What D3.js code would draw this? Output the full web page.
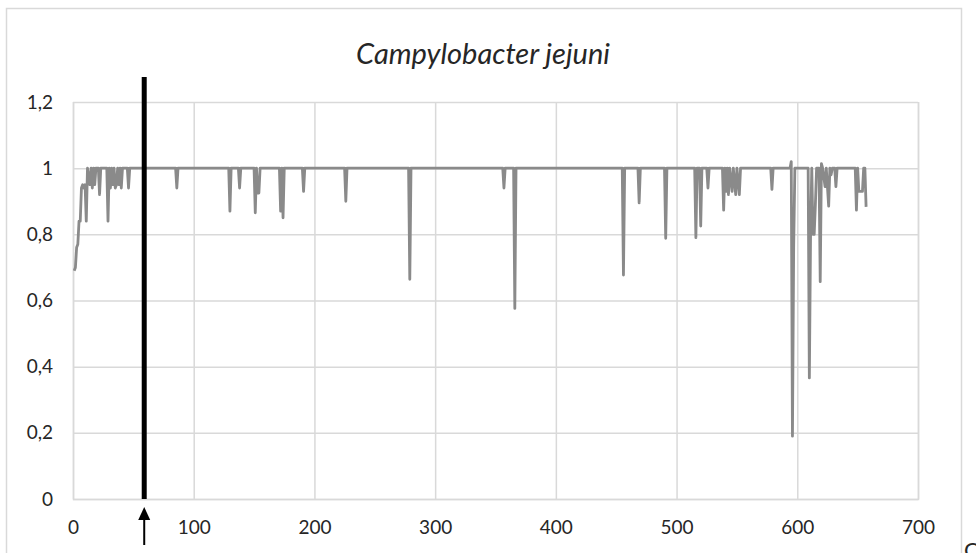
<!DOCTYPE html>
<html>
<head>
<meta charset="utf-8">
<script src="https://cdn.jsdelivr.net/npm/d3@7"></script>
<style>
  body { margin: 0; background: #fff; }
  text { font-family: Lato, "Open Sans", sans-serif; fill: #262626; }
</style>
</head>
<body>
<div id="chart"></div>
<script>
// sequence positions and their values (1 = conserved, dips below)
const positions = [1, 2, 3, 4, 5, 6, 7, 8, 9, 10, 11, 12,
  14, 15, 16, 17, 18, 19, 21, 22, 23, 28, 29, 30,
  31, 32, 33, 34, 35, 36, 37, 38, 39, 40, 41, 45, 46, 47,
  85, 86, 87, 129, 130, 131, 137, 138, 139,
  150, 151, 152, 153, 154, 155, 171, 172, 173, 174, 175,
  190, 191, 192, 225, 226, 227, 278, 279, 280,
  356, 357, 358, 365, 366, 367, 455, 456, 457, 468, 469, 470, 490, 491, 492,
  515, 516, 517, 519, 520, 521, 525, 526, 527, 538, 539, 540,
  541, 542, 543, 544, 546, 547, 549, 550, 552, 553, 578, 579, 580,
  594, 595, 596, 597, 598, 599, 609, 610, 611, 612, 613, 614, 615, 616, 617,
  618, 619, 620, 621, 623, 624, 626, 627, 628, 629, 631, 632, 633,
  648, 649, 650, 651, 652, 653, 654, 655, 656, 657];
const values = [0.69, 0.70, 0.76, 0.77, 0.84, 0.84, 0.94, 0.95, 0.94, 0.95, 0.84, 1,
  0.95, 1, 0.94, 1, 0.95, 1, 1, 0.92, 1, 1, 0.84, 1,
  0.94, 1, 0.95, 1, 0.94, 0.95, 1, 0.95, 1, 0.94, 1, 1, 0.94, 1,
  1, 0.94, 1, 1, 0.87, 1, 1, 0.94, 1,
  1, 0.865, 1, 0.925, 0.925, 1, 1, 0.87, 1, 0.85, 1,
  1, 0.93, 1, 1, 0.90, 1, 1, 0.664, 1,
  1, 0.94, 1, 1, 0.576, 1, 1, 0.677, 1, 1, 0.895, 1, 1, 0.788, 1,
  1, 0.79, 1, 1, 0.825, 1, 1, 0.94, 1, 1, 0.873, 1,
  0.93, 1, 0.92, 1, 0.93, 1, 0.92, 1, 0.92, 1, 1, 0.936, 1,
  1, 1.02, 0.19, 0.76, 1, 1, 1, 0.366, 0.80, 1, 0.80, 0.80, 0.89, 1, 1,
  1, 0.657, 1.014, 1, 0.944, 1, 0.885, 1, 0.98, 1, 1, 0.944, 1,
  1, 0.873, 1, 0.93, 0.93, 0.93, 0.93, 1, 1, 0.883];

const xTicks = [0, 100, 200, 300, 400, 500, 600, 700];
const yTicks = [0, 0.2, 0.4, 0.6, 0.8, 1, 1.2];
const yTickLabels = ["0", "0,2", "0,4", "0,6", "0,8", "1", "1,2"];
const markerPos = 59;
const title = "Campylobacter jejuni";

const W = 976, H = 553;
const plotL = 73, plotR = 918, plotT = 102, plotB = 499;

const svg = d3.select("#chart").append("svg")
  .attr("width", W)
  .attr("height", H);

// outer chart frame
svg.append("rect")
  .attr("x", 6.5).attr("y", 8.5)
  .attr("width", 955).attr("height", 570)
  .attr("fill", "#fff")
  .attr("stroke", "#d9d9d9")
  .attr("stroke-width", 1.5);

const x = d3.scaleLinear().domain([0, 700]).range([plotL, plotR]);
const y = d3.scaleLinear().domain([0, 1.2]).range([plotB, plotT]);

// x axis + vertical gridlines
const gx = svg.append("g")
  .attr("transform", "translate(0," + plotB + ")")
  .call(d3.axisBottom(x).tickValues(xTicks).tickFormat(d3.format("d"))
    .tickSize(-(plotB - plotT)).tickPadding(22));
gx.select(".domain").attr("stroke", "#d9d9d9").attr("stroke-width", 1.5);
gx.selectAll("line").attr("stroke", "#d9d9d9").attr("stroke-width", 1.5);
gx.selectAll("text").style("font-size", "19px").attr("fill", "#262626");

// y axis + horizontal gridlines
const gy = svg.append("g")
  .attr("transform", "translate(" + plotL + ",0)")
  .call(d3.axisLeft(y).tickValues(yTicks).tickFormat((d, i) => yTickLabels[i])
    .tickSize(-(plotR - plotL)).tickPadding(20));
gy.select(".domain").remove();
gy.selectAll("line").attr("stroke", "#d9d9d9").attr("stroke-width", 1.5);
gy.selectAll("text").style("font-size", "19px").attr("fill", "#262626");

// data line
const pts = positions.map((p, i) => [p, values[i]]);
svg.append("path")
  .datum(pts)
  .attr("fill", "none")
  .attr("stroke", "#8a8a8a")
  .attr("stroke-width", 2.8)
  .attr("stroke-linejoin", "round")
  .attr("d", d3.line().x(d => x(d[0])).y(d => y(d[1])));

// black marker line
svg.append("line")
  .attr("x1", x(markerPos)).attr("x2", x(markerPos))
  .attr("y1", 77).attr("y2", plotB)
  .attr("stroke", "#000")
  .attr("stroke-width", 5);

// arrow under the axis
const ax = x(markerPos);
svg.append("line")
  .attr("x1", ax).attr("x2", ax)
  .attr("y1", 518).attr("y2", 545)
  .attr("stroke", "#000").attr("stroke-width", 2);
svg.append("path")
  .attr("d", "M" + ax + ",507L" + (ax - 6) + ",520L" + (ax + 6) + ",520Z")
  .attr("fill", "#000");

// title
svg.append("text")
  .attr("x", 483).attr("y", 64)
  .attr("text-anchor", "middle")
  .style("font-size", "29px")
  .style("font-style", "italic")
  .text(title);

// cut-off letter at the right bottom edge
svg.append("text")
  .attr("x", 964).attr("y", 558)
  .style("font-size", "22px")
  .text("C");
</script>
</body>
</html>
